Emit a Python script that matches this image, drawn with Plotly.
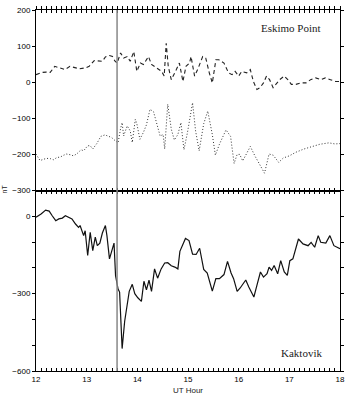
import plotly.graph_objects as go

# ---- data (UT hour, nT) ----
esk_dash_t = [12.00, 12.06, 12.12, 12.20, 12.28, 12.37, 12.47, 12.57, 12.67, 12.76, 12.86, 12.98,
              13.05, 13.15, 13.25, 13.31, 13.37, 13.45, 13.51, 13.56, 13.60, 13.67, 13.73, 13.80,
              13.86, 13.93, 13.99, 14.06, 14.12, 14.22, 14.28, 14.38, 14.48, 14.53, 14.57, 14.61,
              14.67, 14.77, 14.83, 14.90, 14.96, 15.03, 15.06, 15.13, 15.19, 15.29, 15.35, 15.42,
              15.48, 15.55, 15.61, 15.71, 15.80, 15.87, 15.93, 16.00, 16.06, 16.16, 16.23, 16.29,
              16.36, 16.42, 16.49, 16.55, 16.61, 16.68, 16.74, 16.81, 16.90, 16.97, 17.04, 17.13,
              17.23, 17.33, 17.42, 17.52, 17.62, 17.71, 17.81, 17.91, 18.00]
esk_dash_v = [21, 25, 27, 28, 27, 44, 40, 35, 44, 40, 37, 40,
              44, 60, 58, 58, 70, 74, 71, 58, 53, 81, 67, 71,
              58, 85, 30, 53, 49, 71, 49, 40, 30, 17, 108, 44,
              7, 35, 53, 2, 44, 53, 71, 17, 35, 71, 67, 26,
              -2, 62, 62, 53, 26, 21, 30, 17, 30, 26, 35, 2,
              -20, -15, -2, 17, 7, -15, -6, 7, 17, 7, -6, -6,
              -2, -2, 7, 12, 7, 12, 7, 2, 2]

esk_dot_t = [12.00, 12.04, 12.08, 12.16, 12.21, 12.29, 12.34, 12.42, 12.47, 12.55, 12.60, 12.68,
             12.74, 12.81, 12.89, 12.94, 13.02, 13.07, 13.12, 13.20, 13.28, 13.36, 13.43, 13.49,
             13.57, 13.62, 13.67, 13.70, 13.73, 13.80, 13.86, 13.90, 13.96, 13.99, 14.05, 14.12,
             14.18, 14.25, 14.32, 14.38, 14.45, 14.51, 14.54, 14.60, 14.67, 14.73, 14.80, 14.86,
             14.92, 14.99, 15.09, 15.15, 15.22, 15.31, 15.39, 15.48, 15.54, 15.62, 15.75, 15.84,
             15.91, 15.97, 16.02, 16.08, 16.13, 16.23, 16.32, 16.42, 16.51, 16.60, 16.68, 16.79,
             16.88, 17.00, 17.13, 17.29, 17.45, 17.60, 17.78, 17.90, 18.00]
esk_dot_v = [-199, -210, -217, -213, -211, -212, -215, -208, -208, -202, -199, -201,
             -204, -198, -187, -190, -176, -176, -185, -170, -150, -146, -150, -153,
             -163, -168, -128, -112, -149, -121, -135, -167, -103, -115, -158, -139,
             -118, -75, -82, -112, -149, -145, -185, -61, -130, -160, -145, -112,
             -187, -139, -57, -135, -190, -115, -80, -145, -202, -172, -132, -150,
             -225, -200, -200, -218, -205, -178, -204, -231, -252, -199, -202, -222,
             -210, -204, -194, -185, -179, -172, -168, -171, -170]

kak_t = [12.00, 12.05, 12.10, 12.19, 12.26, 12.32, 12.39, 12.45, 12.52, 12.58, 12.65, 12.71,
         12.78, 12.84, 12.87, 12.94, 12.97, 13.02, 13.07, 13.12, 13.17, 13.21, 13.26, 13.31,
         13.37, 13.40, 13.45, 13.49, 13.54, 13.57, 13.62, 13.65, 13.68, 13.70, 13.75, 13.79,
         13.84, 13.90, 13.95, 14.01, 14.08, 14.13, 14.18, 14.23, 14.28, 14.34, 14.40, 14.47,
         14.54, 14.60, 14.67, 14.74, 14.80, 14.84, 14.90, 14.95, 15.02, 15.09, 15.16, 15.23,
         15.31, 15.38, 15.48, 15.55, 15.62, 15.71, 15.78, 15.85, 15.90, 15.97, 16.03, 16.08,
         16.14, 16.20, 16.30, 16.36, 16.43, 16.49, 16.56, 16.60, 16.65, 16.70, 16.77, 16.83,
         16.90, 16.96, 17.01, 17.07, 17.14, 17.18, 17.27, 17.37, 17.43, 17.50, 17.57, 17.62,
         17.72, 17.80, 17.88, 17.95, 18.00]
kak_v = [-4, 2, 9, 24, 20, 2, -17, -10, -7, 2, -4, -10,
         -30, -43, -36, -75, -56, -152, -62, -133, -81, -114, -104, -65,
         -36, -75, -165, -133, -104, -230, -282, -294, -420, -513, -407, -355,
         -291, -264, -300, -316, -330, -252, -285, -248, -291, -204, -240, -204,
         -181, -180, -192, -197, -204, -136, -110, -86, -94, -147, -148, -124,
         -206, -220, -290, -242, -242, -226, -175, -220, -242, -291, -278, -262,
         -247, -274, -313, -268, -216, -236, -223, -197, -210, -191, -223, -172,
         -216, -229, -172, -165, -114, -88, -107, -114, -101, -120, -75, -101,
         -104, -75, -114, -120, -126]

onset_hour = 13.6
x_range = [12, 18]
top_range = [-300, 200]
bot_range = [-600, 100]
x_labels = ["12", "13", "14", "15", "16", "17", "18"]

SANS = "Liberation Sans, Arial, sans-serif"
SERIF = "Liberation Serif, Times New Roman, serif"

# tick positions every 0.1 h, labels on whole hours
tick_vals = [round(12 + i * 0.1, 1) for i in range(61)]
tick_text = [x_labels[i // 10] if i % 10 == 0 else "" for i in range(61)]

fig = go.Figure()
fig.add_trace(go.Scatter(x=esk_dash_t, y=esk_dash_v, mode="lines", xaxis="x", yaxis="y",
                         line=dict(color="#222", width=1.1, dash="4px,3px"), showlegend=False))
fig.add_trace(go.Scatter(x=esk_dot_t, y=esk_dot_v, mode="lines", xaxis="x", yaxis="y",
                         line=dict(color="#333", width=1, dash="1px,2px"), showlegend=False))
fig.add_trace(go.Scatter(x=kak_t, y=kak_v, mode="lines", xaxis="x2", yaxis="y2",
                         line=dict(color="#111", width=1.2), showlegend=False))
# invisible trace to activate the overlaying top axis
fig.add_trace(go.Scatter(x=[12], y=[0], xaxis="x3", yaxis="y", mode="markers",
                         marker=dict(opacity=0), showlegend=False, hoverinfo="skip"))

tickfont = dict(family=SANS, size=8, color="black")
xcommon = dict(range=x_range, tickmode="array", tickvals=tick_vals, ticktext=tick_text,
               showgrid=False, zeroline=False, tickcolor="black", tickwidth=1, tickfont=tickfont)

fig.update_layout(
    width=351, height=399,
    margin=dict(l=36, r=6, t=10, b=26),
    paper_bgcolor="white", plot_bgcolor="white",
    xaxis=dict(**xcommon, anchor="y", ticks="inside", ticklen=3, mirror="ticks",
               showline=True, linecolor="black", linewidth=1, showticklabels=False),
    xaxis3=dict(**xcommon, overlaying="x", anchor="y", side="top", ticks="outside",
                ticklen=3, showline=False, showticklabels=False),
    xaxis2=dict(**xcommon, anchor="y2", ticks="inside", ticklen=3, mirror="ticks",
                showline=True, linecolor="black", linewidth=1, showticklabels=True,
                title=dict(text="UT Hour", font=dict(family=SANS, size=8, color="#222"), standoff=4)),
    yaxis=dict(domain=[0.5, 1], range=top_range, dtick=100, tick0=0, anchor="x",
               ticks="outside", ticklen=3, mirror="ticks", showline=True, linecolor="black",
               linewidth=1, tickcolor="black", showgrid=False, zeroline=False, tickfont=tickfont),
    yaxis2=dict(domain=[0, 0.5], range=bot_range, dtick=300, tick0=0, anchor="x2",
                ticks="outside", ticklen=3, mirror="ticks", showline=True, linecolor="black",
                linewidth=1, tickcolor="black", showgrid=False, zeroline=False, tickfont=tickfont,
                minor=dict(dtick=100, ticklen=3, ticks="outside", tickcolor="black", showgrid=False)),
    shapes=[dict(type="line", xref="x", yref="paper", x0=onset_hour, x1=onset_hour, y0=0, y1=1,
                 line=dict(color="#888", width=1.5))],
    annotations=[
        dict(text="Eskimo Point", xref="paper", yref="paper", x=0.840, y=0.951, showarrow=False,
             xanchor="center", yanchor="middle", font=dict(family=SERIF, size=11, color="#222")),
        dict(text="Kaktovik", xref="paper", yref="paper", x=0.872, y=0.049, showarrow=False,
             xanchor="center", yanchor="middle", font=dict(family=SERIF, size=11, color="#222")),
        dict(text="nT", xref="paper", yref="paper", x=-0.104, y=0.504, showarrow=False,
             xanchor="center", yanchor="middle",
             textangle=-90, font=dict(family=SANS, size=7, color="#222")),
    ],
)

fig.write_html("out.html")
